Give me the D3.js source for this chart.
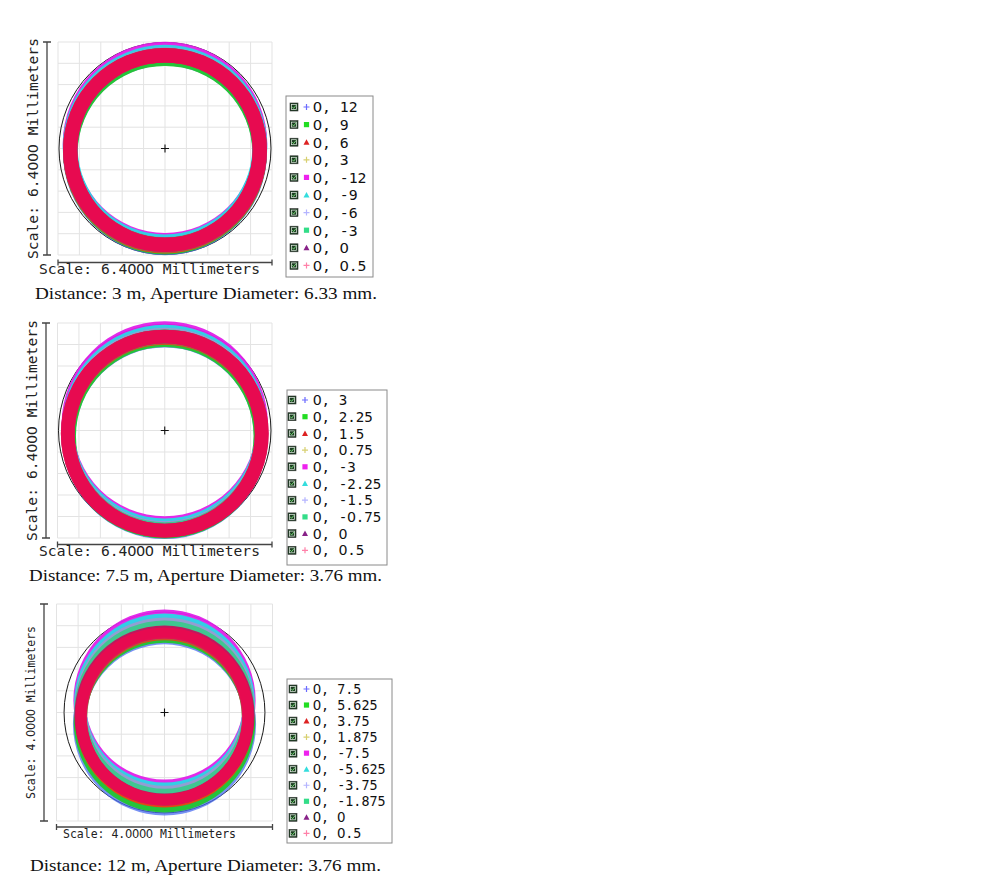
<!DOCTYPE html>
<html><head><meta charset="utf-8">
<script src="https://cdn.jsdelivr.net/npm/d3@7"></script>
<style>html,body{margin:0;padding:0;background:#fff;}svg{display:block;}</style>
</head><body>
<svg id="chart" width="986" height="894"></svg>
<script>
// ---------- DATA (mm; dy = vertical ring-centre offset, + is up) ----------
const fields1 = [12, 9, 6, 3, -12, -9, -6, -3, 0, 0.5];
const dy1     = [-0.14, -0.13, -0.09, -0.07, 0.135, 0.04, -0.02, -0.035, -0.045, -0.045];
const rOut1   = [3.05, 3.04, 3.05, 3.05, 3.06, 3.06, 3.05, 3.05, 3.05, 3.05];
const rIn1    = [2.62, 2.60, 2.66, 2.66, 2.66, 2.61, 2.63, 2.62, 2.62, 2.62];
const scale1 = 6.4, refR1 = 3.17;

const fields2 = [3, 2.25, 1.5, 0.75, -3, -2.25, -1.5, -0.75, 0, 0.5];
const dy2     = [-0.18, -0.16, -0.13, -0.11, 0.18, 0.095, 0.005, -0.04, -0.09, -0.09];
const rOut2   = [3.06, 3.06, 3.06, 3.06, 3.08, 3.06, 3.06, 3.06, 3.10, 3.10];
const rIn2    = [2.66, 2.65, 2.69, 2.69, 2.74, 2.72, 2.71, 2.70, 2.69, 2.69];
const scale2 = 6.4, refR2 = 3.17;

const fields3 = [7.5, 5.625, 3.75, 1.875, -7.5, -5.625, -3.75, -1.875, 0, 0.5];
const dy3     = [-0.212, -0.170, -0.101, -0.074, 0.221, 0.157, 0.092, 0.037, -0.055, -0.074];
const rOut3   = [1.696, 1.682, 1.659, 1.650, 1.687, 1.677, 1.668, 1.668, 1.668, 1.650];
const rIn3    = [1.475, 1.461, 1.438, 1.429, 1.465, 1.456, 1.447, 1.447, 1.447, 1.438];
const scale3 = 4.0, refR3 = 1.86;

const captions = [
  "Distance: 3 m, Aperture Diameter: 6.33 mm.",
  "Distance: 7.5 m, Aperture Diameter: 3.76 mm.",
  "Distance: 12 m, Aperture Diameter: 3.76 mm."
];

// ---------- STYLE ----------
const markerShapes = ["plus","square","triangle","plus","square","triangle","plus","square","triangle","plus"];
const markerColors = ["#6b6bff","#22dd22","#dd2222","#d8d070","#ee22ee","#33dddd","#b4b4ff","#33dd88","#882288","#ff80a8"];
const ringColors   = ["#4a6cf0","#22c62e","#f03c14","#7e7c52","#e020e8","#28d8e6","#9a9ad0","#3cc88c","#c4105c","#ea0a50"];
const ringOpacity  = [0.75, 0.95, 0.95, 0.9, 0.95, 0.95, 0.92, 0.95, 0.95, 0.93];

const layouts = [
  {x0:58, x1:272, y0:42, y1:255, yAxisX:47, xAxisY:262.5, lblFont:14.6, yLblX:37.5, xLblX:39, xLblY:274, xLblW:221,
   lg:{x:286, y:96, w:87, h:181, row0:107, step:17.6, font:14.8, cb:294, mk:306.5, tx:313},
   cap:{x:35, y:299, w:342}},
  {x0:57.5, x1:272, y0:323, y1:538, yAxisX:46, xAxisY:544.5, lblFont:14.6, yLblX:36.5, xLblX:39, xLblY:556, xLblW:221,
   lg:{x:287, y:390, w:100, h:175, row0:400, step:16.7, font:14.2, cb:292, mk:305, tx:313},
   cap:{x:29, y:581, w:353}},
  {x0:56.5, x1:272.5, y0:604, y1:821, yAxisX:44, xAxisY:827, lblFont:11.5, yLblX:35, xLblX:63, xLblY:838, xLblW:173,
   lg:{x:287, y:679, w:105, h:164, row0:689, step:16.04, font:13.4, cb:293, mk:306.5, tx:313},
   cap:{x:30, y:871, w:351}}
];

const panels = [
  {fields:fields1, dy:dy1, rOut:rOut1, rIn:rIn1, scale:scale1, refR:refR1},
  {fields:fields2, dy:dy2, rOut:rOut2, rIn:rIn2, scale:scale2, refR:refR2},
  {fields:fields3, dy:dy3, rOut:rOut3, rIn:rIn3, scale:scale3, refR:refR3}
];

const svg = d3.select("#chart");
svg.append("rect").attr("width",986).attr("height",894).attr("fill","#fff");
const mono = "'DejaVu Sans Mono', 'Liberation Mono', monospace";

// monospace text laid out cell by cell; zeros use an un-slashed glyph
function monoText(parent, str, x0, y, size, charW, fill) {
  const t = parent.append("text").attr("y", y).attr("font-family", mono)
    .attr("font-size", size).attr("fill", fill).style("white-space", "pre");
  Array.from(str).forEach((ch, i) => {
    const ts = t.append("tspan").attr("x", x0 + i * charW + (ch === "0" ? -0.017 * size : 0)).text(ch);
    if (ch === "0") ts.attr("font-family", "'DejaVu Sans', sans-serif");
  });
  return t;
}

panels.forEach((p, pi) => {
  const L = layouts[pi];
  const h = p.scale / 2;
  const x = d3.scaleLinear().domain([-h, h]).range([L.x0, L.x1]);
  const y = d3.scaleLinear().domain([-h, h]).range([L.y1, L.y0]);
  const g = svg.append("g");

  // grid
  const gridVals = d3.range(0, 11).map(i => -h + i * p.scale / 10);
  g.append("g").selectAll("line").data(gridVals).join("line")
    .attr("x1", d => x(d)).attr("x2", d => x(d)).attr("y1", L.y0).attr("y2", L.y1)
    .attr("stroke", "#e3e3e3").attr("stroke-width", 1);
  g.append("g").selectAll("line").data(gridVals).join("line")
    .attr("y1", d => y(d)).attr("y2", d => y(d)).attr("x1", L.x0).attr("x2", L.x1)
    .attr("stroke", "#e3e3e3").attr("stroke-width", 1);

  // reference circle
  g.append("circle").attr("cx", x(0)).attr("cy", y(0))
    .attr("r", x(p.refR) - x(0)).attr("fill", "none").attr("stroke", "#1a1a1a").attr("stroke-width", 1);

  // rings (one annulus per field, drawn in field order)
  const arc = d3.arc().startAngle(0).endAngle(2 * Math.PI);
  const k = x(1) - x(0);
  p.fields.forEach((f, i) => {
    g.append("path")
      .attr("d", arc({innerRadius: p.rIn[i] * k, outerRadius: p.rOut[i] * k}))
      .attr("transform", `translate(${x(0)},${y(p.dy[i])})`)
      .attr("fill", ringColors[i]).attr("fill-opacity", ringOpacity[i]);
  });

  // center cross
  g.append("path").attr("d", `M${x(0)-4},${y(0)}H${x(0)+4}M${x(0)},${y(0)-4}V${y(0)+4}`)
    .attr("stroke", "#111").attr("stroke-width", 1.1);

  // axes
  const ax = g.append("g").attr("stroke", "#444").attr("stroke-width", 1.3).attr("fill", "none");
  ax.append("path").attr("d", `M${L.yAxisX},${L.y0}V${L.y1}M${L.yAxisX-4},${L.y0}H${L.yAxisX+4}M${L.yAxisX-4},${L.y1}H${L.yAxisX+4}`);
  ax.append("path").attr("d", `M${L.x0},${L.xAxisY}H${L.x1}M${L.x0},${L.xAxisY-3}V${L.xAxisY+3}M${L.x1},${L.xAxisY-3}V${L.xAxisY+3}`);

  const lbl = `Scale: ${p.scale.toFixed(4)} Millimeters`;
  const cw = L.xLblW / lbl.length;
  monoText(g, lbl, L.xLblX, L.xLblY, L.lblFont, cw, "#222");
  const yg = g.append("g").attr("transform", `translate(${L.yLblX},${(L.y0 + L.y1) / 2}) rotate(-90)`);
  monoText(yg, lbl, -L.xLblW / 2, 0, L.lblFont, cw, "#222");

  // legend
  const lg = L.lg;
  g.append("rect").attr("x", lg.x).attr("y", lg.y).attr("width", lg.w).attr("height", lg.h)
    .attr("fill", "#fff").attr("stroke", "#8a8a8a").attr("stroke-width", 1);
  p.fields.forEach((f, i) => {
    const cy = lg.row0 + i * lg.step;
    const row = g.append("g");
    row.append("rect").attr("x", lg.cb - 4).attr("y", cy - 4).attr("width", 8).attr("height", 8)
      .attr("fill", "#1c3d22").attr("stroke", "#333").attr("stroke-width", 0.6);
    row.append("rect").attr("x", lg.cb - 2.5).attr("y", cy - 2.5).attr("width", 5).attr("height", 5)
      .attr("fill", "none").attr("stroke", "#e8f0e8").attr("stroke-width", 0.7);
    row.append("path").attr("d", `M${lg.cb-1.8},${cy-0.2}L${lg.cb-0.4},${cy+1.4}L${lg.cb+2},${cy-1.6}`)
      .attr("fill", "none").attr("stroke", "#7fe07f").attr("stroke-width", 0.9);
    const shape = markerShapes[i], col = markerColors[i];
    if (shape === "plus") {
      row.append("path").attr("d", `M${lg.mk-3},${cy}H${lg.mk+3}M${lg.mk},${cy-3}V${cy+3}`)
        .attr("stroke", col).attr("stroke-width", 1.2);
    } else if (shape === "square") {
      row.append("rect").attr("x", lg.mk - 2.6).attr("y", cy - 2.6).attr("width", 5.2).attr("height", 5.2).attr("fill", col);
    } else {
      row.append("path").attr("d", `M${lg.mk},${cy-3}L${lg.mk+3},${cy+2.5}L${lg.mk-3},${cy+2.5}Z`).attr("fill", col);
    }
    monoText(row, `0, ${f}`, lg.tx, cy + 0.36 * lg.font, lg.font, lg.font * 0.602, "#111");
  });

  // caption
  g.append("text").attr("x", L.cap.x).attr("y", L.cap.y)
    .attr("font-family", "'Liberation Serif', 'DejaVu Serif', serif").attr("font-size", 17.5).attr("fill", "#111")
    .attr("textLength", L.cap.w).attr("lengthAdjust", "spacingAndGlyphs").text(captions[pi]);
});
</script>
</body></html>
